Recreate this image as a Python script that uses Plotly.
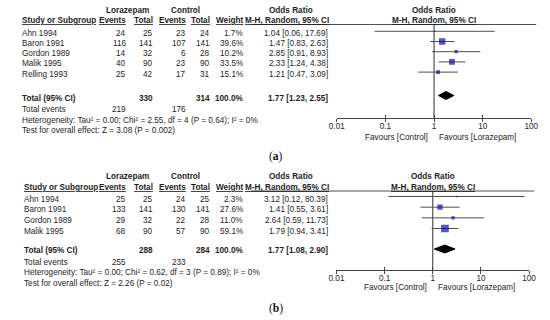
import math
import plotly.graph_objects as go

# ---------------- data ----------------
studies_a = ["Ahn 1994", "Baron 1991", "Gordon 1989", "Malik 1995", "Relling 1993"]
lz_events_a = [24, 116, 14, 40, 25]
lz_total_a = [25, 141, 32, 90, 42]
ct_events_a = [23, 107, 6, 23, 17]
ct_total_a = [24, 141, 28, 90, 31]
weight_a = [1.7, 39.6, 10.2, 33.5, 15.1]
or_a = [1.04, 1.47, 2.85, 2.33, 1.21]
lo_a = [0.06, 0.83, 0.91, 1.24, 0.47]
hi_a = [17.69, 2.63, 8.93, 4.38, 3.09]
total_a = dict(lz_total=330, ct_total=314, weight=100.0, est=1.77, lo=1.23, hi=2.55,
               lz_events=219, ct_events=176, tau2="0.00", chi2="2.55", df=4, p_het="0.64",
               i2=0, z="3.08", p="0.002")

studies_b = ["Ahn 1994", "Baron 1991", "Gordon 1989", "Malik 1995"]
lz_events_b = [25, 133, 29, 68]
lz_total_b = [25, 141, 32, 90]
ct_events_b = [24, 130, 22, 57]
ct_total_b = [25, 141, 28, 90]
weight_b = [2.3, 27.6, 11.0, 59.1]
or_b = [3.12, 1.41, 2.64, 1.79]
lo_b = [0.12, 0.55, 0.59, 0.94]
hi_b = [80.39, 3.61, 11.73, 3.41]
total_b = dict(lz_total=288, ct_total=284, weight=100.0, est=1.77, lo=1.08, hi=2.90,
               lz_events=255, ct_events=233, tau2="0.00", chi2="0.62", df=3, p_het="0.89",
               i2=0, z="2.26", p="0.02")

tick_vals = [0.01, 0.1, 1, 10, 100]
tick_text = ["0.01", "0.1", "1", "10", "100"]

# ---------------- layout helpers ----------------
W, H = 550, 320
def px(x): return x / W
def py(y): return 1 - y / H

FONT = "Liberation Sans, Arial, sans-serif"
FS = 8.2
TXT = "#1e1e1e"
BLUE = "#0c0ca8"
LINE = "#505050"

ann = []
def txt(x, y, s, anchor="left", bold=False, size=FS, family=FONT, color=TXT):
    if bold:
        s = f"<b>{s}</b>"
    ann.append(dict(x=px(x), y=py(y), xref="paper", yref="paper", text=s,
                    showarrow=False, xanchor=anchor, yanchor="middle",
                    font=dict(family=family, size=size, color=color)))

fig = go.Figure()
shapes = []

def panel(studies, lze, lzt, cte, ctt, wt, ors, los, his, tot, P, xa, ya, xo):
    # header rows
    txt(123, P["h1"], "Lorazepam", "center", True)
    txt(182, P["h1"], "Control", "center", True)
    txt(291, P["h1"], "Odds Ratio", "center", True)
    txt(P["c1"], P["h1"], "Odds Ratio", "center", True)
    txt(P["sx"], P["h2"], "<u>Study or Subgroup</u>", "left", True)
    txt(123, P["h2"], "<u>Events</u>", "right", True)
    txt(151, P["h2"], "<u>Total</u>", "right", True)
    txt(185, P["h2"], "<u>Events</u>", "right", True)
    txt(210, P["h2"], "<u>Total</u>", "right", True)
    txt(244, P["h2"], "<u>Weight</u>", "right", True)
    txt(332, P["h2"], "<u>M-H, Random, 95% CI</u>", "right", True)
    txt(P["c1"], P["h2"], "<u>M-H, Random, 95% CI</u>", "center", True)
    shapes.append(dict(type="line", xref="paper", yref="paper", x0=px(250), x1=px(P["lx"]),
                       y0=py(P["top"]), y1=py(P["top"]), line=dict(color=LINE, width=1)))
    # study rows
    rows_txt = [P["r0"] + i * P["dr"] for i in range(len(studies))]
    for i, s in enumerate(studies):
        y = rows_txt[i]
        txt(P["sx"], y, s)
        txt(123, y, str(lze[i]), "right")
        txt(151, y, str(lzt[i]), "right")
        txt(185, y, str(cte[i]), "right")
        txt(210, y, str(ctt[i]), "right")
        txt(244, y, f"{wt[i]:.1f}%", "right")
        txt(331, y, f"{ors[i]:.2f} [{los[i]:.2f}, {his[i]:.2f}]", "right")
    # totals
    txt(P["sx"], P["tot"], "Total (95% CI)", "left", True)
    txt(151, P["tot"], str(tot["lz_total"]), "right", True)
    txt(210, P["tot"], str(tot["ct_total"]), "right", True)
    txt(244, P["tot"], f"{tot['weight']:.1f}%", "right", True)
    txt(331, P["tot"], f"{tot['est']:.2f} [{tot['lo']:.2f}, {tot['hi']:.2f}]", "right", True)
    txt(P["sx"], P["ev"], "Total events")
    txt(123, P["ev"], str(tot["lz_events"]), "right")
    txt(185, P["ev"], str(tot["ct_events"]), "right")
    txt(P["sx"], P["het"], f"Heterogeneity: Tau² = {tot['tau2']}; Chi² = {tot['chi2']}, "
                           f"df = {tot['df']} (P = {tot['p_het']}); I² = {tot['i2']}%")
    txt(P["sx"], P["test"], f"Test for overall effect: Z = {tot['z']} (P = {tot['p']})")
    txt(P["c1"] - 4, P["fav"], "Favours [Control]", "right")
    txt(P["c1"] + 3, P["fav"], "Favours [Lorazepam]", "left")
    txt(275, P["lab"], P["label"], "center", size=11.5,
        family="Liberation Serif, Times New Roman, serif", color="#111")

    # forest marks (y axis in pixel units, reversed)
    fig.add_trace(go.Scatter(x=[1, 1], y=[P["top"], P["axis"]], mode="lines",
                             line=dict(color="#303030", width=1), xaxis=xa, yaxis=ya,
                             hoverinfo="skip", showlegend=False))
    for i in range(len(studies)):
        y = rows_txt[i] - P["off"]
        fig.add_trace(go.Scatter(x=[los[i], his[i]], y=[y, y], mode="lines",
                                 line=dict(color=LINE, width=1), xaxis=xa, yaxis=ya,
                                 hoverinfo="skip", showlegend=False))
    fig.add_trace(go.Scatter(x=ors, y=[r - P["off"] for r in rows_txt], mode="markers",
                             marker=dict(symbol="square", color=BLUE,
                                         size=[math.sqrt(w) for w in wt],
                                         line=dict(width=0)),
                             xaxis=xa, yaxis=ya, hoverinfo="skip", showlegend=False))
    dy, hh = P["dia"], 4
    fig.add_trace(go.Scatter(x=[tot["lo"], tot["est"], tot["hi"], tot["est"], tot["lo"]],
                             y=[dy, dy - hh, dy, dy + hh, dy], mode="lines", fill="toself",
                             fillcolor="#000", line=dict(color="#000", width=1),
                             xaxis=xa, yaxis=ya, hoverinfo="skip", showlegend=False))
    fig.add_trace(go.Scatter(x=[None], y=[None], xaxis=xo, yaxis=ya, showlegend=False,
                             hoverinfo="skip"))

PA = dict(h1=10, h2=20.7, r0=33.3, dr=10.2, tot=98.3, ev=109.7, het=120.7, test=130.5,
          fav=137, lab=156, label="(<b>a</b>)", top=24.5, axis=118.3, off=2, dia=95.5,
          x0=338, x1=538, c1=438, sx=12.5, lx=543)
PB = dict(h1=176.7, h2=187.7, r0=199, dr=10.67, tot=250.7, ev=262.3, het=272.7, test=283.3,
          fav=287.7, lab=308, label="(<b>b</b>)", top=191, axis=270, off=2.5, dia=249,
          x0=337.7, x1=535.7, c1=436.5, sx=14.5, lx=541)

panel(studies_a, lz_events_a, lz_total_a, ct_events_a, ct_total_a, weight_a, or_a, lo_a, hi_a,
      total_a, PA, "x", "y", "x3")
panel(studies_b, lz_events_b, lz_total_b, ct_events_b, ct_total_b, weight_b, or_b, lo_b, hi_b,
      total_b, PB, "x2", "y2", "x4")

def xaxis(P, anchor, ticks, labels, overlay=None):
    d = dict(type="log", domain=[px(P["x0"]), px(P["x1"])], range=[-2, 2], anchor=anchor,
             showgrid=False, zeroline=False, ticks=ticks, ticklen=3, tickcolor="#444",
             tickwidth=1, tickvals=tick_vals, ticktext=tick_text, showticklabels=labels,
             tickfont=dict(family=FONT, size=FS, color=TXT), showline=labels,
             linecolor="#444", linewidth=1, fixedrange=True, ticklabelstandoff=-3)
    if overlay:
        d["overlaying"] = overlay
    return d

def yaxis(P):
    return dict(domain=[py(P["axis"]), py(P["top"])], range=[P["axis"], P["top"]],
                visible=False, fixedrange=True)

fig.update_layout(
    width=W, height=H, autosize=False, margin=dict(l=0, r=0, t=0, b=0),
    paper_bgcolor="white", plot_bgcolor="rgba(0,0,0,0)",
    xaxis=xaxis(PA, "y", "outside", True),
    xaxis3=xaxis(PA, "y", "inside", False, "x"),
    yaxis=yaxis(PA),
    xaxis2=xaxis(PB, "y2", "outside", True),
    xaxis4=xaxis(PB, "y2", "inside", False, "x2"),
    yaxis2=yaxis(PB),
    annotations=ann, shapes=shapes, showlegend=False,
)

fig.write_html("out.html", config={"displayModeBar": False, "staticPlot": True},
               post_script="document.body.style.margin='0';document.body.style.overflow='hidden';")
